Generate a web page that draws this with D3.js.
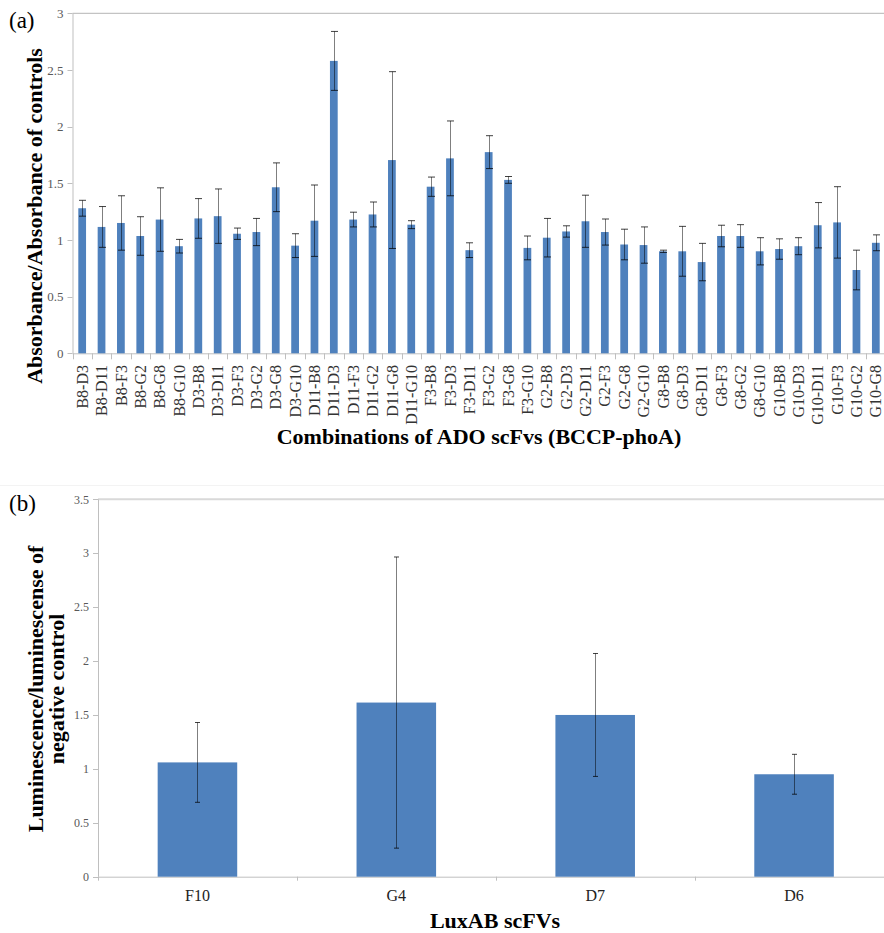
<!DOCTYPE html>
<html>
<head>
<meta charset="utf-8">
<script src="https://cdn.jsdelivr.net/npm/d3@7"></script>
<style>
    body { margin: 0; background: #fff; }
    svg { display: block; font-family: 'Liberation Serif', 'Times New Roman', serif; }
</style>
</head>
<body>
<div id="chart"></div>
<script>
// panel (a): ADO scFv combinations, BCCP-phoA
const combos = ['B8-D3', 'B8-D11', 'B8-F3', 'B8-G2', 'B8-G8', 'B8-G10',
    'D3-B8', 'D3-D11', 'D3-F3', 'D3-G2', 'D3-G8', 'D3-G10',
    'D11-B8', 'D11-D3', 'D11-F3', 'D11-G2', 'D11-G8', 'D11-G10',
    'F3-B8', 'F3-D3', 'F3-D11', 'F3-G2', 'F3-G8', 'F3-G10',
    'G2-B8', 'G2-D3', 'G2-D11', 'G2-F3', 'G2-G8', 'G2-G10',
    'G8-B8', 'G8-D3', 'G8-D11', 'G8-F3', 'G8-G2', 'G8-G10',
    'G10-B8', 'G10-D3', 'G10-D11', 'G10-F3', 'G10-G2', 'G10-G8'];
const absorbance = [1.28, 1.115, 1.15, 1.035, 1.18, 0.945,
    1.19, 1.21, 1.055, 1.07, 1.465, 0.95,
    1.17, 2.58, 1.18, 1.225, 1.705, 1.135,
    1.47, 1.72, 0.91, 1.775, 1.53, 0.93,
    1.02, 1.075, 1.165, 1.07, 0.96, 0.955,
    0.90, 0.90, 0.805, 1.035, 1.035, 0.90,
    0.92, 0.945, 1.13, 1.155, 0.735, 0.975];
const absorbanceErr = [0.07, 0.18, 0.24, 0.17, 0.28, 0.06,
    0.175, 0.24, 0.05, 0.12, 0.215, 0.105,
    0.315, 0.26, 0.065, 0.11, 0.78, 0.035,
    0.085, 0.33, 0.065, 0.145, 0.03, 0.105,
    0.17, 0.05, 0.23, 0.115, 0.135, 0.16,
    0.01, 0.22, 0.165, 0.095, 0.10, 0.12,
    0.09, 0.075, 0.2, 0.315, 0.175, 0.07];
const absorbanceTicks = [0, 0.5, 1, 1.5, 2, 2.5, 3];

// panel (b): LuxAB scFvs
const luxScfvs = ['F10', 'G4', 'D7', 'D6'];
const luminescence = [1.06, 1.615, 1.5, 0.95];
const luminescenceErr = [0.37, 1.35, 0.57, 0.185];
const luminescenceTicks = [0, 0.5, 1, 1.5, 2, 2.5, 3, 3.5];

const width = 884;
const height = 933;
const barColor = '#4f81bd';
const axisColor = '#bfbfbf';

const svg = d3.select('#chart')
    .append('svg')
    .attr('width', width)
    .attr('height', height)
    .attr('viewBox', `0 0 ${width} ${height}`);

svg.append('rect')
    .attr('width', width)
    .attr('height', height)
    .attr('fill', '#fff');

function drawPanel(opts) {
    const g = svg.append('g');

    const x = d3.scaleBand()
        .domain(opts.categories)
        .range(opts.xRange)
        .paddingInner(0.6)
        .paddingOuter(0.3);

    const y = d3.scaleLinear()
        .domain([0, d3.max(opts.ticks)])
        .range(opts.yRange);

    const x0 = opts.xRange[0];

    // top gridline
    g.append('line')
        .attr('x1', x0)
        .attr('x2', width)
        .attr('y1', y(d3.max(opts.ticks)))
        .attr('y2', y(d3.max(opts.ticks)))
        .attr('stroke', opts.gridColor)
        .attr('stroke-width', opts.gridWidth);

    // y axis
    g.append('line')
        .attr('x1', x0 + 0.5)
        .attr('x2', x0 + 0.5)
        .attr('y1', y.range()[1])
        .attr('y2', y.range()[0])
        .attr('stroke', axisColor);

    g.selectAll('.ytick')
        .data(opts.ticks)
        .join('line')
        .attr('x1', x0 - 5)
        .attr('x2', x0)
        .attr('y1', d => Math.round(y(d)) + 0.5)
        .attr('y2', d => Math.round(y(d)) + 0.5)
        .attr('stroke', axisColor);

    g.selectAll('.ylabel')
        .data(opts.ticks)
        .join('text')
        .attr('x', x0 - 9)
        .attr('y', d => y(d))
        .attr('dy', '0.35em')
        .attr('text-anchor', 'end')
        .attr('font-size', opts.yTickSize)
        .attr('fill', '#595959')
        .text(d => d);

    // x axis with ticks between categories
    g.append('line')
        .attr('x1', x0)
        .attr('x2', width)
        .attr('y1', y(0) + 0.5)
        .attr('y2', y(0) + 0.5)
        .attr('stroke', axisColor);

    const step = x.step();
    g.selectAll('.xtick')
        .data(d3.range(opts.categories.length + 1))
        .join('line')
        .attr('x1', i => Math.round(x0 + i * step) + 0.5)
        .attr('x2', i => Math.round(x0 + i * step) + 0.5)
        .attr('y1', y(0))
        .attr('y2', y(0) + opts.xTickLen)
        .attr('stroke', axisColor);

    // bars
    g.selectAll('.bar')
        .data(opts.values)
        .join('rect')
        .attr('x', (d, i) => x(opts.categories[i]))
        .attr('y', d => y(d))
        .attr('width', x.bandwidth())
        .attr('height', d => y(0) - y(d))
        .attr('fill', barColor);

    // error bars
    const err = g.selectAll('.err')
        .data(opts.values.map((v, i) => ({ v, e: opts.errors[i], c: opts.categories[i] })))
        .join('g')
        .attr('transform', d => `translate(${Math.round(x(d.c) + x.bandwidth() / 2) + 0.5},0)`);

    err.append('line')
        .attr('y1', d => y(d.v + d.e))
        .attr('y2', d => y(d.v - d.e))
        .attr('stroke', '#000')
        .attr('stroke-opacity', 0.5);

    err.selectAll('.cap')
        .data(d => [d.v + d.e, d.v - d.e])
        .join('line')
        .attr('x1', -opts.capHalf)
        .attr('x2', opts.capHalf)
        .attr('y1', d => y(d))
        .attr('y2', d => y(d))
        .attr('stroke', '#000')
        .attr('stroke-opacity', 0.75);

    return { g, x, y };
}

// ---- panel (a)
const a = drawPanel({
    categories: combos,
    values: absorbance,
    errors: absorbanceErr,
    ticks: absorbanceTicks,
    xRange: [72.5, 885.5],
    yRange: [353.3, 13.3],
    gridColor: '#b4b4b4',
    gridWidth: 1,
    yTickSize: 13,
    xTickLen: 6,
    capHalf: 3.5
});

a.g.selectAll('.xlabel')
    .data(combos)
    .join('text')
    .attr('transform', d => `translate(${a.x(d) + a.x.bandwidth() / 2},365) rotate(-90)`)
    .attr('dy', '0.35em')
    .attr('text-anchor', 'end')
    .attr('font-size', 16)
    .attr('fill', '#333')
    .text(d => d);

a.g.append('text')
    .attr('transform', 'translate(42,216) rotate(-90)')
    .attr('text-anchor', 'middle')
    .attr('font-size', 22)
    .attr('font-weight', 'bold')
    .text('Absorbance/Absorbance of controls');

a.g.append('text')
    .attr('x', 479)
    .attr('y', 444)
    .attr('text-anchor', 'middle')
    .attr('font-size', 22)
    .attr('font-weight', 'bold')
    .text('Combinations of ADO scFvs (BCCP-phoA)');

svg.append('text')
    .attr('x', 9)
    .attr('y', 28)
    .attr('font-size', 23)
    .text('(a)');

// faint divider between panels
svg.append('line')
    .attr('x1', 0)
    .attr('x2', width)
    .attr('y1', 485.5)
    .attr('y2', 485.5)
    .attr('stroke', '#f3f3f3');

// ---- panel (b)
const b = drawPanel({
    categories: luxScfvs,
    values: luminescence,
    errors: luminescenceErr,
    ticks: luminescenceTicks,
    xRange: [98, 893.5],
    yRange: [876.7, 499.3],
    gridColor: '#d9d9d9',
    gridWidth: 2,
    yTickSize: 12,
    xTickLen: 4,
    capHalf: 2.5
});

b.g.selectAll('.xlabel')
    .data(luxScfvs)
    .join('text')
    .attr('x', d => b.x(d) + b.x.bandwidth() / 2)
    .attr('y', 901)
    .attr('text-anchor', 'middle')
    .attr('font-size', 16)
    .attr('fill', '#222')
    .text(d => d);

const lumTitle = b.g.append('text')
    .attr('transform', 'translate(43,689) rotate(-90)')
    .attr('text-anchor', 'middle')
    .attr('font-size', 22)
    .attr('font-weight', 'bold');

lumTitle.append('tspan')
    .attr('x', 0)
    .attr('y', 0)
    .text('Luminescence/luminescense of');

lumTitle.append('tspan')
    .attr('x', 0)
    .attr('y', 21)
    .text('negative control');

b.g.append('text')
    .attr('x', 495)
    .attr('y', 928)
    .attr('text-anchor', 'middle')
    .attr('font-size', 22)
    .attr('font-weight', 'bold')
    .text('LuxAB scFVs');

svg.append('text')
    .attr('x', 9)
    .attr('y', 511)
    .attr('font-size', 23)
    .text('(b)');
</script>
</body>
</html>
